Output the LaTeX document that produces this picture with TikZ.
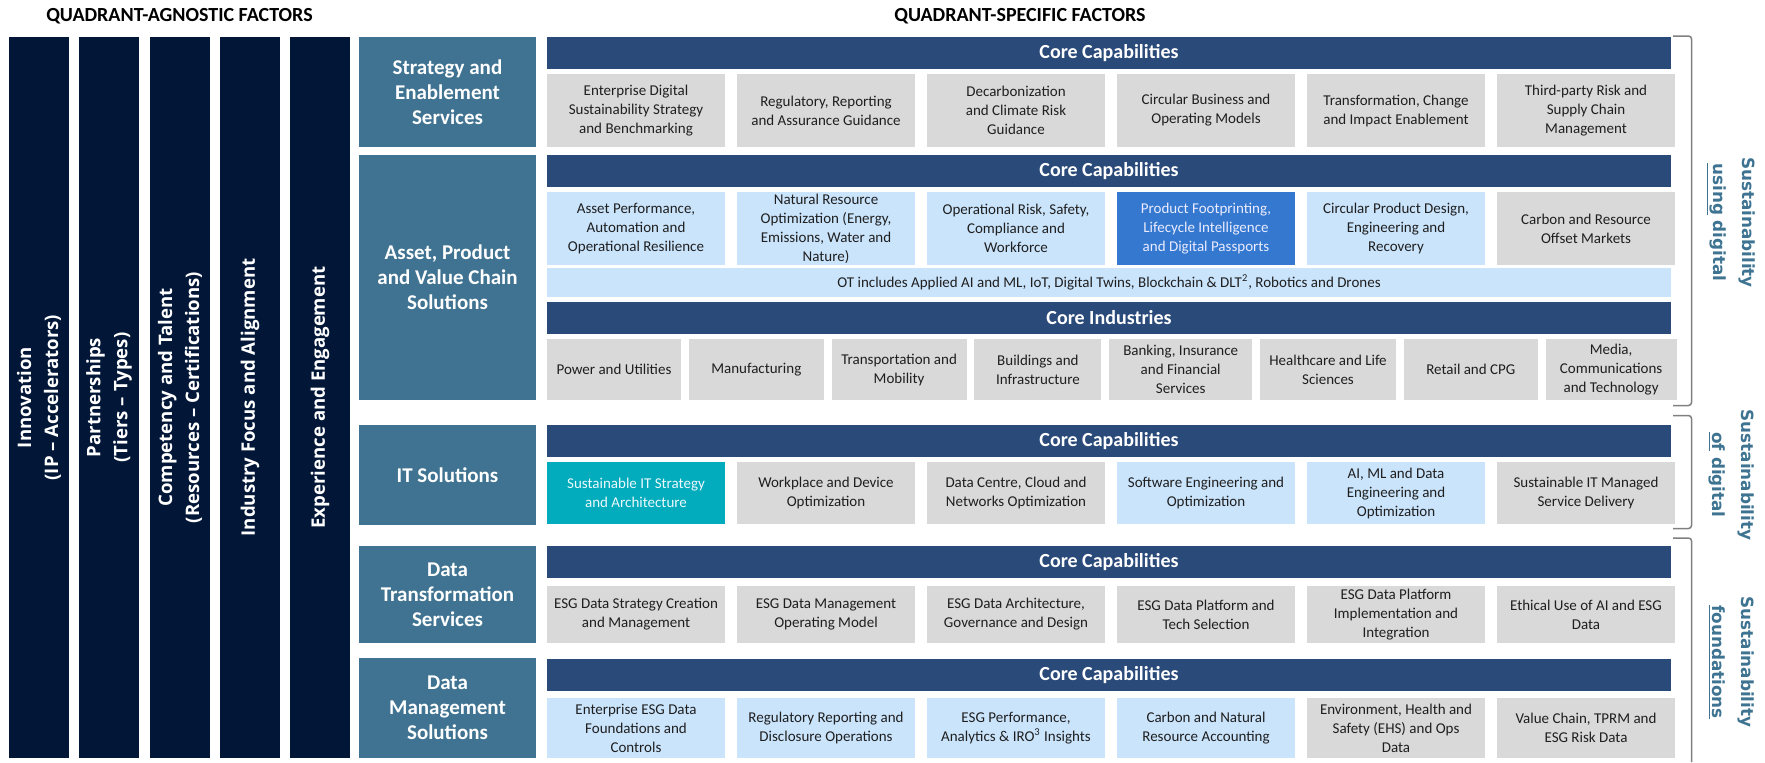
\documentclass[tikz,border=0pt]{standalone}
\usepackage{fontspec}
\setmainfont{Carlito}
\newfontfamily\colfont{Open Sans}
\newfontfamily\sidefont{DejaVu Sans}
\usetikzlibrary{positioning}

\definecolor{navy}{RGB}{2,23,56}
\definecolor{slate}{RGB}{63,115,145}
\definecolor{barblue}{RGB}{42,74,122}
\definecolor{greybox}{RGB}{217,217,217}
\definecolor{paleblue}{RGB}{202,228,252}
\definecolor{midblue}{RGB}{52,121,207}
\definecolor{aqua}{RGB}{2,172,188}
\definecolor{sidetext}{RGB}{62,116,145}
\definecolor{bracegrey}{RGB}{128,128,128}

\tikzset{
  title/.style={font=\bfseries\fontsize{10}{12}\selectfont,text=black},
  factor/.style={fill=navy,text=white,rotate=90,minimum width=360.5pt,minimum height=30pt,
    inner sep=0pt,align=center,font=\colfont\bfseries\fontsize{9.3}{13.5}\selectfont},
  offer/.style={fill=slate,text=white,minimum width=88.5pt,inner sep=0pt,align=center,
    font=\bfseries\fontsize{10.5}{12.5}\selectfont},
  corebar/.style={fill=barblue,text=white,minimum width=562pt,minimum height=16pt,
    inner sep=0pt,font=\bfseries\fontsize{10}{12}\selectfont},
  capbox/.style={minimum width=89pt,inner sep=0pt,align=center,text=black!88,
    font=\fontsize{7.5}{9.5}\selectfont},
  greycap/.style={capbox,fill=greybox},
  palecap/.style={capbox,fill=paleblue},
  bluecap/.style={capbox,fill=midblue,text=blue!8},
  aquacap/.style={capbox,fill=aqua,text=cyan!8},
  sector/.style={greycap,minimum height=30.5pt},
  side/.style={rotate=-90,align=center,text=sidetext,
    font=\sidefont\bfseries\fontsize{8.4}{14.5}\selectfont},
  brace/.style={draw=bracegrey,line width=0.75pt,rounded corners=1.5pt},
}

\begin{document}
\begin{tikzpicture}[x=0.5pt,y=-0.5pt,node distance=5.6pt]
  \useasboundingbox (0,0) rectangle (1765,762);

  %% headings
  \node[title] (agnostic) at (179.5,16) {QUADRANT-AGNOSTIC FACTORS};
  \node[title] (specific) at (1020,16) {QUADRANT-SPECIFIC FACTORS};

  %% quadrant-agnostic columns
  \node[factor] (innov) at (39,397.5) {Innovation\\(IP – Accelerators)};
  \node[factor] (partner) at (109,397.5) {Partnerships\\(Tiers – Types)};
  \node[factor] (talent) at (180,397.5) {Competency and Talent\\(Resources – Certifications)};
  \node[factor] (focus) at (250,397.5) {Industry Focus and Alignment};
  \node[factor] (engage) at (320,397.5) {Experience and Engagement};

  %% offerings
  \node[offer,minimum height=55pt] (strategy) at (447.5,92) {Strategy and\\Enablement\\Services};
  \node[offer,minimum height=122.5pt] (asset) at (447.5,277.5) {Asset, Product\\and Value Chain\\Solutions};
  \node[offer,minimum height=50pt] (itsol) at (447.5,475) {IT Solutions};
  \node[offer,minimum height=48.5pt] (datatrans) at (447.5,594.5) {Data\\Transformation\\Services};
  \node[offer,minimum height=50pt] (datamgmt) at (447.5,708) {Data\\Management\\Solutions};

  %% strategy and enablement
  \node[corebar] (cc1) at (1109,53) {Core Capabilities};
  \node[greycap,minimum height=36.5pt] (s1) at (636,110.5) {Enterprise Digital\\Sustainability Strategy\\and Benchmarking};
  \node[greycap,minimum height=36.5pt,right=of s1] (s2) {Regulatory, Reporting\\and Assurance Guidance};
  \node[greycap,minimum height=36.5pt,right=of s2] (s3) {Decarbonization\\and Climate Risk\\Guidance};
  \node[greycap,minimum height=36.5pt,right=of s3] (s4) {Circular Business and\\Operating Models};
  \node[greycap,minimum height=36.5pt,right=of s4] (s5) {Transformation, Change\\and Impact Enablement};
  \node[greycap,minimum height=36.5pt,right=of s5] (s6) {Third-party Risk and\\Supply Chain\\Management};

  %% asset, product and value chain
  \node[corebar] (cc2) at (1109,171) {Core Capabilities};
  \node[palecap,minimum height=36.5pt] (a1) at (636,228.5) {Asset Performance,\\Automation and\\Operational Resilience};
  \node[palecap,minimum height=36.5pt,right=of a1] (a2) {Natural Resource\\Optimization (Energy,\\Emissions, Water and\\Nature)};
  \node[palecap,minimum height=36.5pt,right=of a2] (a3) {Operational Risk, Safety,\\Compliance and\\Workforce};
  \node[bluecap,minimum height=36.5pt,right=of a3] (a4) {Product Footprinting,\\Lifecycle Intelligence\\and Digital Passports};
  \node[palecap,minimum height=36.5pt,right=of a4] (a5) {Circular Product Design,\\Engineering and\\Recovery};
  \node[greycap,minimum height=36.5pt,right=of a5] (a6) {Carbon and Resource\\Offset Markets};
  \node[palecap,minimum width=562pt,minimum height=14.5pt] (ot) at (1109,282.5)
    {OT includes Applied AI and ML, IoT, Digital Twins, Blockchain \& DLT\textsuperscript{2}, Robotics and Drones};
  \node[corebar] (ci) at (1109,318) {Core Industries};
  \node[sector,minimum width=67pt] (i1) at (614,369.5) {Power and Utilities};
  \node[sector,minimum width=67.5pt,right=3.5pt of i1] (i2) {Manufacturing};
  \node[sector,minimum width=67.5pt,right=3.5pt of i2] (i3) {Transportation and\\Mobility};
  \node[sector,minimum width=63.5pt,right=3.5pt of i3] (i4) {Buildings and\\Infrastructure};
  \node[sector,minimum width=71.5pt,right=3.5pt of i4] (i5) {Banking, Insurance\\and Financial\\Services};
  \node[sector,minimum width=68pt,right=3.5pt of i5] (i6) {Healthcare and Life\\Sciences};
  \node[sector,minimum width=67pt,right=3.5pt of i6] (i7) {Retail and CPG};
  \node[sector,minimum width=65.5pt,right=3.5pt of i7] (i8) {Media,\\Communications\\and Technology};

  %% IT solutions
  \node[corebar] (cc3) at (1109,441) {Core Capabilities};
  \node[aquacap,minimum height=31pt] (t1) at (636,493) {Sustainable IT Strategy\\and Architecture};
  \node[greycap,minimum height=31pt,right=of t1] (t2) {Workplace and Device\\Optimization};
  \node[greycap,minimum height=31pt,right=of t2] (t3) {Data Centre, Cloud and\\Networks Optimization};
  \node[palecap,minimum height=31pt,right=of t3] (t4) {Software Engineering and\\Optimization};
  \node[palecap,minimum height=31pt,right=of t4] (t5) {AI, ML and Data\\Engineering and\\Optimization};
  \node[greycap,minimum height=31pt,right=of t5] (t6) {Sustainable IT Managed\\Service Delivery};

  %% data transformation
  \node[corebar] (cc4) at (1109,562) {Core Capabilities};
  \node[greycap,minimum height=28.5pt] (d1) at (636,614.5) {ESG Data Strategy Creation\\and Management};
  \node[greycap,minimum height=28.5pt,right=of d1] (d2) {ESG Data Management\\Operating Model};
  \node[greycap,minimum height=28.5pt,right=of d2] (d3) {ESG Data Architecture,\\Governance and Design};
  \node[greycap,minimum height=28.5pt,right=of d3] (d4) {ESG Data Platform and\\Tech Selection};
  \node[greycap,minimum height=28.5pt,right=of d4] (d5) {ESG Data Platform\\Implementation and\\Integration};
  \node[greycap,minimum height=28.5pt,right=of d5] (d6) {Ethical Use of AI and ESG\\Data};

  %% data management
  \node[corebar] (cc5) at (1109,675) {Core Capabilities};
  \node[palecap,minimum height=30pt] (m1) at (636,728) {Enterprise ESG Data\\Foundations and\\Controls};
  \node[palecap,minimum height=30pt,right=of m1] (m2) {Regulatory Reporting and\\Disclosure Operations};
  \node[palecap,minimum height=30pt,right=of m2] (m3) {ESG Performance,\\Analytics \& IRO\textsuperscript{3} Insights};
  \node[palecap,minimum height=30pt,right=of m3] (m4) {Carbon and Natural\\Resource Accounting};
  \node[greycap,minimum height=30pt,right=of m4] (m5) {Environment, Health and\\Safety (EHS) and Ops\\Data};
  \node[greycap,minimum height=30pt,right=of m5] (m6) {Value Chain, TPRM and\\ESG Risk Data};

  %% brackets on the right
  \coordinate (b1top) at (1673,36);
  \coordinate (b1bot) at (1673,405.5);
  \coordinate (b2top) at (1673,415.5);
  \coordinate (b2bot) at (1673,528.5);
  \coordinate (b3top) at (1673,538);
  \coordinate (b3bot) at (1691.5,762);
  \draw[brace] (b1top) -| ([xshift=9.25pt]b1bot) -- (b1bot);
  \draw[brace] (b2top) -| ([xshift=9.25pt]b2bot) -- (b2bot);
  \draw[brace,rounded corners=0pt] (b3top) -- ++(9,0) [rounded corners=1.5pt] -- ++(9.5,0) -- (b3bot);

  \node[side] (usingdig) at (1731,222.5) {Sustainability\\\underline{using} digital};
  \node[side] (ofdig) at (1731,475) {Sustainability\\\underline{of} digital};
  \node[side] (found) at (1731,662) {Sustainability\\\underline{foundations}};
\end{tikzpicture}
\end{document}
